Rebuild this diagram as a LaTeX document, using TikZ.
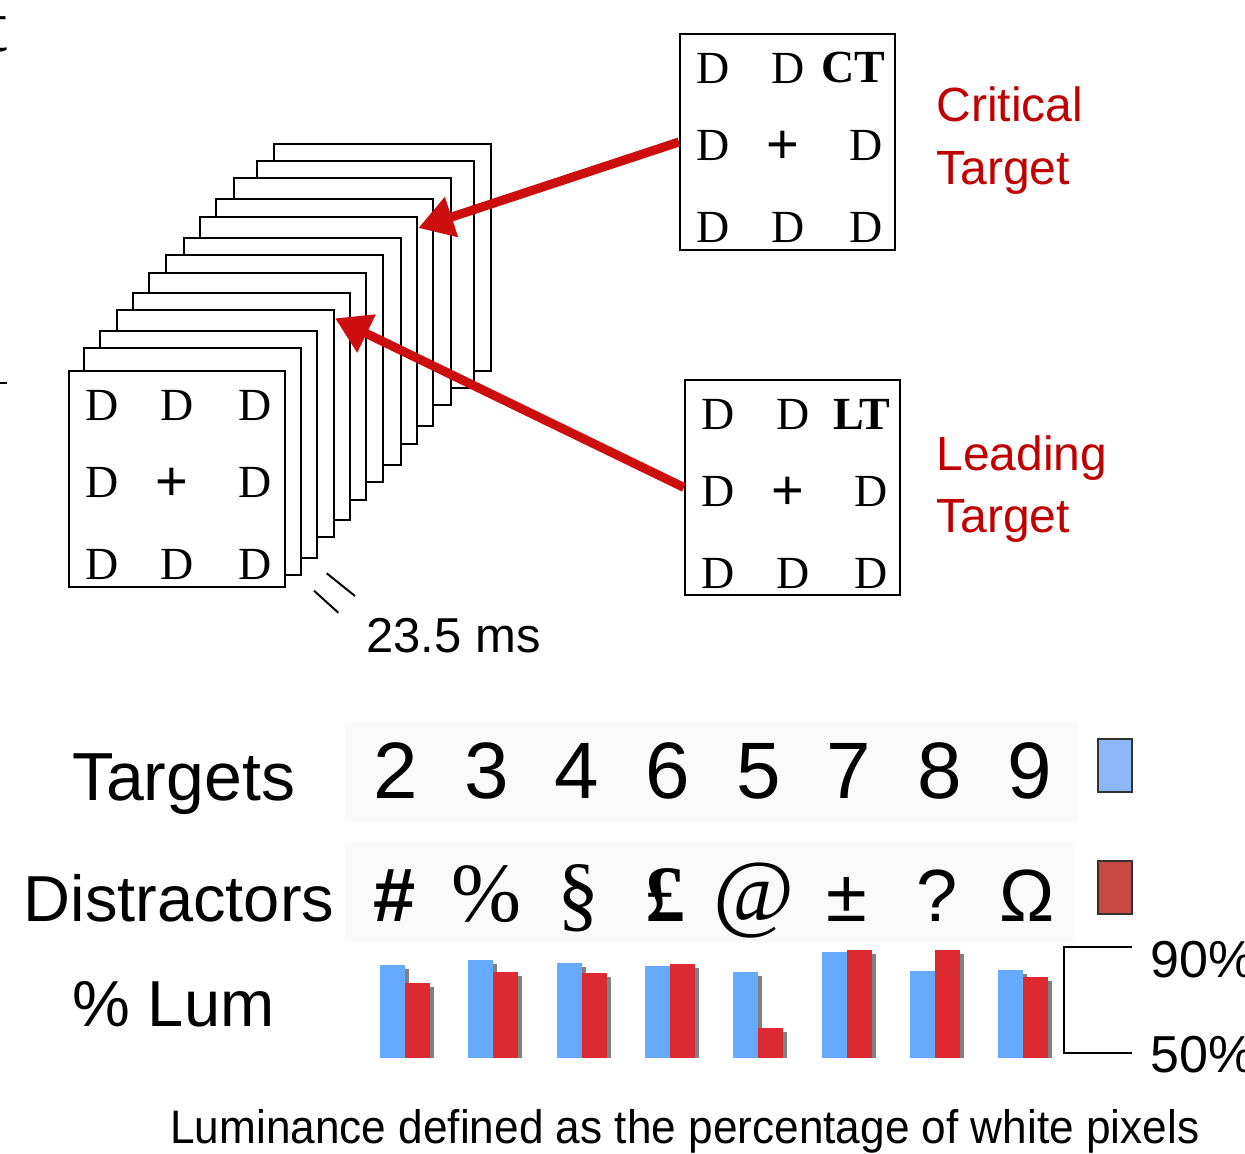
\documentclass[tikz,border=0pt]{standalone}
\usepackage{fontspec}
\setmainfont{Liberation Sans}
\newfontfamily\seriffont{Liberation Serif}
\usetikzlibrary{arrows.meta,calc}
\definecolor{arrowred}{RGB}{204,14,14}
\definecolor{labelred}{RGB}{192,0,0}
\definecolor{barblue}{RGB}{102,170,255}
\definecolor{barred}{RGB}{221,42,48}
\definecolor{keyblue}{RGB}{140,184,250}
\definecolor{keyred}{RGB}{200,72,68}
\definecolor{rowbg}{RGB}{250,250,250}
\newcommand\stimgrid[5]{%
  \node[letter] (#1-11) at (#2+34,#3+35) {D};
  \node[letter] (#1-12) at (#2+109,#3+35) {D};
  \node[letter] (#1-13) at (#2+#4,#3+35) {#5};
  \node[letter] (#1-21) at (#2+34,#3+112) {D};
  \node[plussign] (#1-22) at (#2+104,#3+114) {+};
  \node[letter] (#1-23) at (#2+187,#3+112) {D};
  \node[letter] (#1-31) at (#2+34,#3+194) {D};
  \node[letter] (#1-32) at (#2+109,#3+194) {D};
  \node[letter] (#1-33) at (#2+187,#3+194) {D};
}
\begin{document}
\begin{tikzpicture}[x=0.5pt,y=-0.5pt,
  frame/.style={draw=black, line width=1pt, fill=white, anchor=north west, inner sep=0,
    minimum width=108.5pt, minimum height=113.5pt},
  stimbox/.style={draw=black, line width=1pt, fill=white, anchor=north west, inner sep=0,
    minimum width=108pt, minimum height=108pt},
  letter/.style={font=\seriffont\fontsize{23}{23}\selectfont, inner sep=0},
  plussign/.style={font=\fontsize{28}{28}\selectfont, inner sep=0},
  redarrow/.style={draw=arrowred, line width=4.5pt, -{Triangle[length=17.5pt,width=20pt]}},
  redlabel/.style={font=\fontsize{24}{24}\selectfont, text=labelred, inner sep=0, anchor=base west},
  biglabel/.style={font=\fontsize{32.5}{32.5}\selectfont, inner sep=0, anchor=base west},
  digit/.style={font=\fontsize{40}{40}\selectfont, inner sep=0, anchor=base},
  sym/.style={inner sep=0, anchor=base},
  keybox/.style={draw=black!80, line width=1pt, anchor=north west, inner sep=0,
    minimum width=17pt, minimum height=26.5pt},
  pct/.style={font=\fontsize{26}{26}\selectfont, inner sep=0, anchor=base west},
]
\useasboundingbox (0,0) rectangle (1245,1154);

% cut-off marks at the left edge
\node[font=\seriffont\fontsize{38}{38}\selectfont, inner sep=0, anchor=base east] (edget) at (8,52) {t};
\coordinate (dashA) at (0,383);
\coordinate (dashB) at (7,383);
\draw[line width=1pt] (dashA) -- (dashB);

% stack of frames (back to front)
\foreach \i/\l/\t in {1/272.7/142.7, 2/255.7/160, 3/232.7/177.3, 4/215/198.3,
  5/199.3/216, 6/182.7/236.7, 7/165/254, 8/148.3/271.7, 9/131.7/292.3,
  10/116/309.3, 11/99.3/330, 12/82.7/347.3}
  \node[frame] (f\i) at (\l,\t) {};
\node[stimbox] (front) at (68,370) {};
\stimgrid{fr}{68}{370}{187}{D}

% critical target box
\node[stimbox, minimum width=107.5pt] (ct) at (679,33) {};
\stimgrid{ctg}{679}{33}{174}{\bfseries CT}
% leading target box
\node[stimbox, minimum width=107.5pt, minimum height=107.5pt] (lt) at (684,379) {};
\stimgrid{ltg}{684}{379}{178}{\bfseries LT}

\node[redlabel] (crit1) at (936,122) {Critical};
\node[redlabel] (crit2) at (936,185) {Target};
\node[redlabel] (lead1) at (936,470) {Leading};
\node[redlabel] (lead2) at (936,532) {Target};

\draw[redarrow] (ct.west) -- ($(f5.north east)+(0,12)$);
\draw[redarrow] (lt.west) -- ($(f10.north east)+(0,9)$);

% timing
\draw[line width=1pt] (326.7,573.3) -- (355,596);
\draw[line width=1pt] (314,590.7) -- (338.3,612.7);
\node[font=\fontsize{24.5}{24.5}\selectfont, inner sep=0, anchor=base west] (ms) at (366,652) {23.5 ms};

% bottom rows
\fill[rowbg] (345,722) rectangle (1078,822);
\fill[rowbg] (345,842) rectangle (1075,942);

\node[biglabel, font=\fontsize{34}{34}\selectfont] (tg) at (71.7,800) {Targets};
\node[biglabel] (ds) at (23.3,921.7) {Distractors};
\node[biglabel] (lum) at (71.7,1026.7) {\% Lum};

\foreach \d/\x [count=\i] in {2/395.7,3/486.7,4/577,6/668,5/759,7/849,8/940,9/1030}
  \node[digit] (t\i) at (\x,798) {\d};

\node[sym, font=\bfseries\fontsize{38}{38}\selectfont] (s1) at (395,921) {\#};
\node[sym, font=\seriffont\fontsize{42}{42}\selectfont] (s2) at (486.7,921) {\%};
\node[sym, font=\seriffont\fontsize{42}{42}\selectfont] (s3) at (578,921) {§};
\node[sym, font=\seriffont\bfseries\fontsize{40}{40}\selectfont] (s4) at (665,921) {£};
\node[sym, font=\seriffont\fontsize{44}{44}\selectfont] (s5) at (754,921) {@};
\node[sym, font=\fontsize{37}{37}\selectfont] (s6) at (847,921) {±};
\node[sym, font=\fontsize{37}{37}\selectfont] (s7) at (937,921) {?};
\node[sym, font=\fontsize{37}{37}\selectfont] (s8) at (1027,921) {Ω};

\node[keybox, fill=keyblue] (kb) at (1097,738.3) {};
\node[keybox, fill=keyred] (kr) at (1097,860) {};

% luminance bars
\foreach \i/\b/\r in {0/965/982.7, 1/960/971.7, 2/963.3/972.7, 3/966/964.3,
  4/971.7/1028.3, 5/951.7/950, 6/971/950, 7/970/976.7} {
  \pgfmathsetmacro\x{380+88.33*\i}
  \fill[black!50] (\x+4,\b+4) rectangle (\x+29,1058.3);
  \fill[barblue] (\x,\b) rectangle (\x+25,1058.3);
  \fill[black!50] (\x+29,\r+4) rectangle (\x+54,1058.3);
  \fill[barred] (\x+25,\r) rectangle (\x+50,1058.3);
}

% scale bracket
\coordinate (brA) at (1131.7,947.3);
\coordinate (brB) at (1064,947.3);
\coordinate (brC) at (1064,1052.7);
\coordinate (brD) at (1131.7,1052.7);
\draw[line width=1pt] (brA) -- (brB) -- (brC) -- (brD);
\node[pct] (p90) at (1150,977) {90\%};
\node[pct] (p50) at (1150,1072) {50\%};

\node[font=\fontsize{23.5}{23.5}\selectfont, inner sep=0, anchor=base west] (cap) at (170,1143)
  {\scalebox{0.94}[1]{Luminance defined as the percentage of white pixels}};
\end{tikzpicture}
\end{document}
